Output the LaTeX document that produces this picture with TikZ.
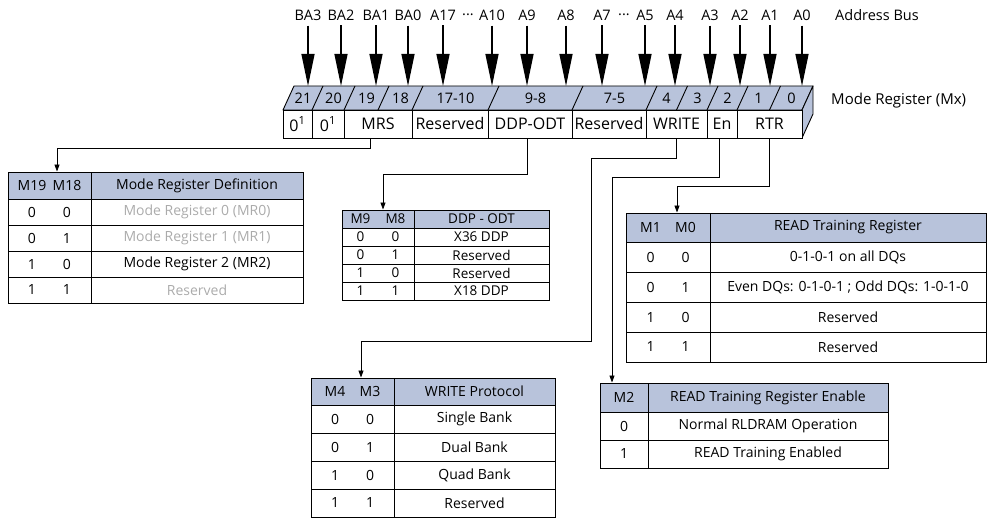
\documentclass[tikz,border=0pt]{standalone}
\usepackage{fontspec}
\setmainfont{Open Sans}
\usepackage{tikz}
\usetikzlibrary{arrows.meta, positioning}
\definecolor{RegBlue}{HTML}{B8C3DB}
\definecolor{DimGray}{HTML}{ABABAB}
\newcommand{\bitpair}[2]{\makebox[35pt]{#1}\makebox[35pt]{#2}}

\begin{document}
\begin{tikzpicture}[
    x=1pt, y=-1pt,
    addr/.style={font=\fontsize{14.5}{16}\selectfont, inner sep=1pt},
    bus/.style={line width=1.3pt, shorten <=4pt, -{Triangle[length=32pt,width=13pt]}},
    face/.style={draw=black, fill=RegBlue, line width=0.9pt, line join=round},
    bitno/.style={font=\fontsize{14.5}{16}\selectfont, inner sep=0pt},
    field/.style={draw=black, fill=white, line width=0.9pt, minimum height=28pt, inner sep=0pt, font=\fontsize{16}{18}\selectfont},
    conn/.style={line width=0.9pt, -{Triangle[length=7pt,width=5pt]}},
    tcell/.style={draw=black, line width=0.9pt, inner sep=0pt, font=\fontsize{14}{16}\selectfont},
    thead/.style={tcell, fill=RegBlue},
    small/.style={font=\fontsize{13.5}{15}\selectfont},
    dim/.style={text=DimGray}
]
\useasboundingbox (0,0) rectangle (988,518);

% === Address bus ===
\node[addr] (ba3) at (308,15) {BA3};
\node[addr] (ba2) at (341,15) {BA2};
\node[addr] (ba1) at (376,15) {BA1};
\node[addr] (ba0) at (408,15) {BA0};
\node[addr] (a17) at (443,15) {A17};
\node[addr] (dotsa) at (468,15) {...};
\node[addr] (a10) at (492,15) {A10};
\node[addr] (a9) at (527,15) {A9};
\node[addr] (a8) at (566,15) {A8};
\node[addr] (a7) at (602,15) {A7};
\node[addr] (dotsb) at (624,15) {...};
\node[addr] (a5) at (645,15) {A5};
\node[addr] (a4) at (675,15) {A4};
\node[addr] (a3) at (710,15) {A3};
\node[addr] (a2) at (740,15) {A2};
\node[addr] (a1) at (770,15) {A1};
\node[addr] (a0) at (802,15) {A0};
\node[addr, anchor=west] (buslabel) at (834,15) {Address Bus};

\coordinate (topedge) at (0,86);
\draw[bus] (ba3) -- (ba3 |- topedge);
\draw[bus] (ba2) -- (ba2 |- topedge);
\draw[bus] (ba1) -- (ba1 |- topedge);
\draw[bus] (ba0) -- (ba0 |- topedge);
\draw[bus] (a17) -- (a17 |- topedge);
\draw[bus] (a10) -- (a10 |- topedge);
\draw[bus] (a9) -- (a9 |- topedge);
\draw[bus] (a8) -- (a8 |- topedge);
\draw[bus] (a7) -- (a7 |- topedge);
\draw[bus] (a5) -- (a5 |- topedge);
\draw[bus] (a4) -- (a4 |- topedge);
\draw[bus] (a3) -- (a3 |- topedge);
\draw[bus] (a2) -- (a2 |- topedge);
\draw[bus] (a1) -- (a1 |- topedge);
\draw[bus] (a0) -- (a0 |- topedge);

% === Mode register ===
\draw[face] (283,110) -- (294,86) -- (813,86) -- (802,110) -- cycle;
\draw[face] (802,110) -- (813,86) -- (813,114) -- (802,138) -- cycle;
\draw[line width=0.9pt] (312,110) -- ++(11,-24) (344,110) -- ++(11,-24)
    (378,110) -- ++(11,-24) (412,110) -- ++(11,-24) (488,110) -- ++(11,-24)
    (572,110) -- ++(11,-24) (646,110) -- ++(11,-24) (676.5,110) -- ++(11,-24)
    (707,110) -- ++(11,-24) (737,110) -- ++(11,-24) (769.5,110) -- ++(11,-24);

\node[bitno] (n21) at (303,98) {21};
\node[bitno] (n20) at (333.5,98) {20};
\node[bitno] (n19) at (366.5,98) {19};
\node[bitno] (n18) at (400.5,98) {18};
\node[bitno] (n17) at (455.5,98) {17-10};
\node[bitno] (n9) at (535.5,98) {9-8};
\node[bitno] (n7) at (614.5,98) {7-5};
\node[bitno] (n4) at (666.5,98) {4};
\node[bitno] (n3) at (697.5,98) {3};
\node[bitno] (n2) at (727.5,98) {2};
\node[bitno] (n1) at (758.5,98) {1};
\node[bitno] (n0) at (791.5,98) {0};

\node[field, minimum width=29pt] (f21) at (297.5,124) {0\textsuperscript{1}};
\node[field, minimum width=32pt] (f20) at (328,124) {0\textsuperscript{1}};
\node[field, minimum width=68pt] (mrs) at (378,124) {MRS};
\node[field, minimum width=76pt] (rsva) at (450,124) {Reserved};
\node[field, minimum width=84pt] (ddp) at (530,124) {DDP-ODT};
\node[field, minimum width=74pt] (rsvb) at (609,124) {Reserved};
\node[field, minimum width=61pt] (wr) at (676.5,124) {WRITE};
\node[field, minimum width=30pt] (en) at (722,124) {En};
\node[field, minimum width=65pt] (rtr) at (769.5,124) {RTR};
\node[addr, anchor=west, font=\fontsize{15}{17}\selectfont] (mxlabel) at (830,101) {Mode Register (Mx)};

% === M19/M18 table ===
\node[thead, minimum width=83pt, minimum height=27pt] (mrh) at (49.5,185.5) {\bitpair{M19}{M18}};
\node[thead, minimum width=212pt, minimum height=27pt] (mrd) at (197,185.5) {Mode Register Definition};
\node[tcell, minimum width=83pt, minimum height=26pt] (mrb0) at (49.5,212) {\bitpair{0}{0}};
\node[tcell, dim, minimum width=212pt, minimum height=26pt] (mr0) at (197,212) {Mode Register 0 (MR0)};
\node[tcell, minimum width=83pt, minimum height=26pt] (mrb1) at (49.5,238) {\bitpair{0}{1}};
\node[tcell, dim, minimum width=212pt, minimum height=26pt] (mr1) at (197,238) {Mode Register 1 (MR1)};
\node[tcell, minimum width=83pt, minimum height=26pt] (mrb2) at (49.5,264) {\bitpair{1}{0}};
\node[tcell, minimum width=212pt, minimum height=26pt] (mr2) at (197,264) {Mode Register 2 (MR2)};
\node[tcell, minimum width=83pt, minimum height=26pt] (mrb3) at (49.5,290) {\bitpair{1}{1}};
\node[tcell, dim, minimum width=212pt, minimum height=26pt] (mr3) at (197,290) {Reserved};

% === M9/M8 table ===
\node[thead, small, minimum width=72pt, minimum height=18pt] (ddh) at (378,219) {\bitpair{M9}{M8}};
\node[thead, small, minimum width=135pt, minimum height=18pt] (ddd) at (481.5,219) {DDP - ODT};
\node[tcell, small, minimum width=72pt, minimum height=18pt] (ddb0) at (378,237) {\bitpair{0}{0}};
\node[tcell, small, minimum width=135pt, minimum height=18pt] (dd0) at (481.5,237) {X36 DDP};
\node[tcell, small, minimum width=72pt, minimum height=18pt] (ddb1) at (378,255) {\bitpair{0}{1}};
\node[tcell, small, minimum width=135pt, minimum height=18pt] (dd1) at (481.5,255) {Reserved};
\node[tcell, small, minimum width=72pt, minimum height=18pt] (ddb2) at (378,273) {\bitpair{1}{0}};
\node[tcell, small, minimum width=135pt, minimum height=18pt] (dd2) at (481.5,273) {Reserved};
\node[tcell, small, minimum width=72pt, minimum height=18pt] (ddb3) at (378,291) {\bitpair{1}{1}};
\node[tcell, small, minimum width=135pt, minimum height=18pt] (dd3) at (481.5,291) {X18 DDP};

% === M4/M3 table ===
\node[thead, minimum width=83pt, minimum height=27pt] (wph) at (352.5,391.5) {\bitpair{M4}{M3}};
\node[thead, minimum width=161pt, minimum height=27pt] (wpd) at (474.5,391.5) {WRITE Protocol};
\node[tcell, minimum width=83pt, minimum height=28pt] (wpb0) at (352.5,419) {\bitpair{0}{0}};
\node[tcell, minimum width=161pt, minimum height=28pt] (wp0) at (474.5,419) {Single Bank};
\node[tcell, minimum width=83pt, minimum height=28pt] (wpb1) at (352.5,447) {\bitpair{0}{1}};
\node[tcell, minimum width=161pt, minimum height=28pt] (wp1) at (474.5,447) {Dual Bank};
\node[tcell, minimum width=83pt, minimum height=28pt] (wpb2) at (352.5,475) {\bitpair{1}{0}};
\node[tcell, minimum width=161pt, minimum height=28pt] (wp2) at (474.5,475) {Quad Bank};
\node[tcell, minimum width=83pt, minimum height=28pt] (wpb3) at (352.5,503) {\bitpair{1}{1}};
\node[tcell, minimum width=161pt, minimum height=28pt] (wp3) at (474.5,503) {Reserved};

% === M1/M0 table ===
\node[thead, minimum width=84pt, minimum height=29pt] (rth) at (668,227.5) {\bitpair{M1}{M0}};
\node[thead, minimum width=276pt, minimum height=29pt] (rtd) at (848,227.5) {READ Training Register};
\node[tcell, minimum width=84pt, minimum height=30pt] (rtb0) at (668,257) {\bitpair{0}{0}};
\node[tcell, minimum width=276pt, minimum height=30pt] (rt0) at (848,257) {0-1-0-1 on all DQs};
\node[tcell, minimum width=84pt, minimum height=30pt] (rtb1) at (668,287) {\bitpair{0}{1}};
\node[tcell, minimum width=276pt, minimum height=30pt] (rt1) at (848,287) {Even DQs: 0-1-0-1 ; Odd DQs: 1-0-1-0};
\node[tcell, minimum width=84pt, minimum height=30pt] (rtb2) at (668,317) {\bitpair{1}{0}};
\node[tcell, minimum width=276pt, minimum height=30pt] (rt2) at (848,317) {Reserved};
\node[tcell, minimum width=84pt, minimum height=30pt] (rtb3) at (668,347) {\bitpair{1}{1}};
\node[tcell, minimum width=276pt, minimum height=30pt] (rt3) at (848,347) {Reserved};

% === M2 table ===
\node[thead, minimum width=48pt, minimum height=29pt] (enh) at (624,397.5) {M2};
\node[thead, minimum width=240pt, minimum height=29pt] (end) at (768,397.5) {READ Training Register Enable};
\node[tcell, minimum width=48pt, minimum height=28pt] (enb0) at (624,426) {0};
\node[tcell, minimum width=240pt, minimum height=28pt] (en0) at (768,426) {Normal RLDRAM Operation};
\node[tcell, minimum width=48pt, minimum height=28pt] (enb1) at (624,454) {1};
\node[tcell, minimum width=240pt, minimum height=28pt] (en1) at (768,454) {READ Training Enabled};

% Connectors
\draw[conn] ([xshift=-8pt]mrs.south) -- ++(0,10) -| ([xshift=7.5pt]mrh.north);
\draw[conn] ([xshift=-3pt]ddp.south) -- ++(0,36) -| ([xshift=5pt]ddh.north);
\draw[conn] (wr.south) -- ++(0,20) -- ++(-85.5,0) -- ++(0,183) -| ([xshift=8.5pt]wph.north);
\draw[conn] ([xshift=-3pt]en.south) -- ++(0,39) -| ([xshift=-12pt]enh.north);
\draw[conn] (rtr.south) -- ++(0,48) -| ([xshift=9pt]rth.north);
\end{tikzpicture}
\end{document}
